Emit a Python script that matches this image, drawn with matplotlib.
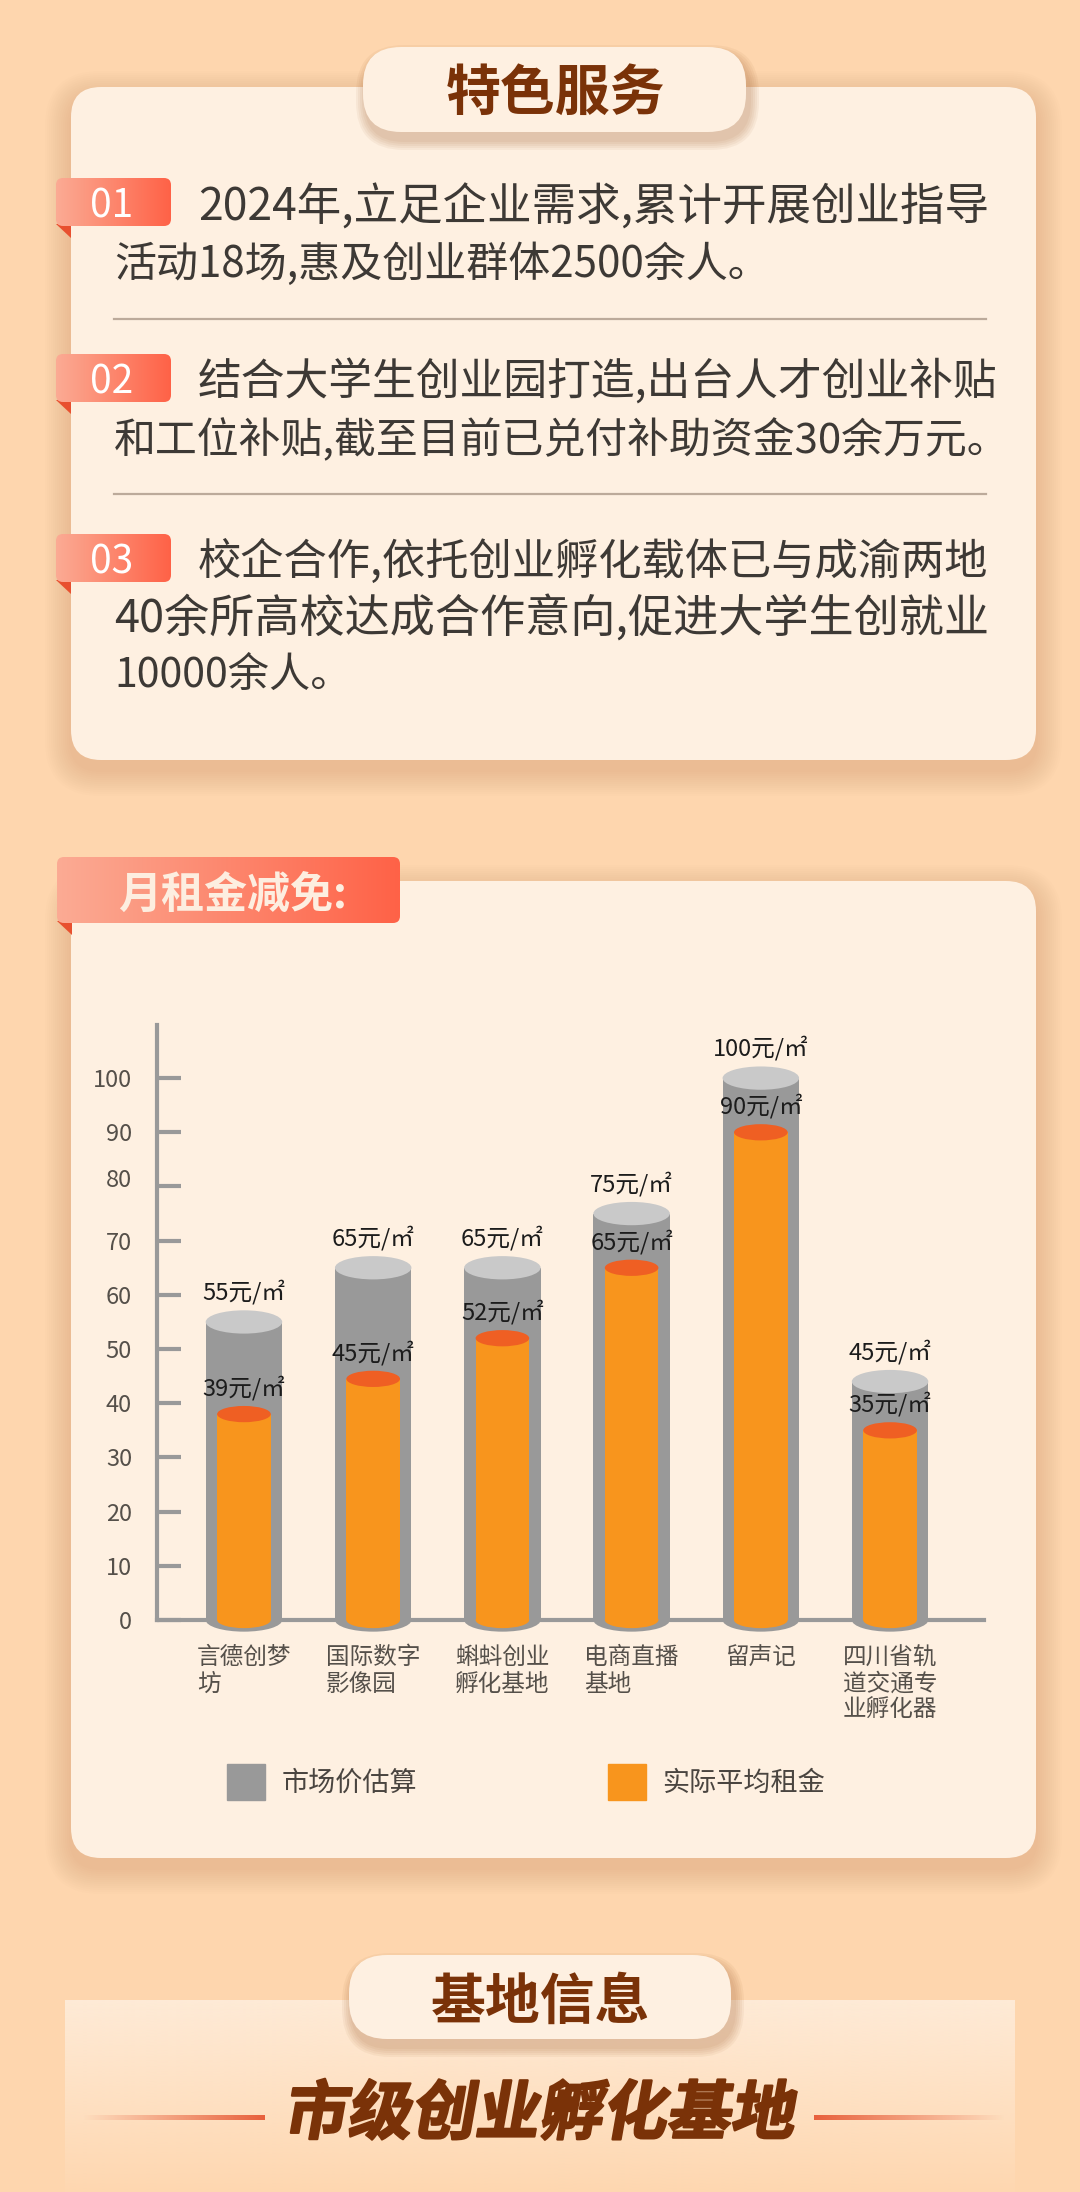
import matplotlib
matplotlib.use('Agg')  # Use a non-GUI backend
import matplotlib.pyplot as plt
import matplotlib.patheffects as pe
import numpy as np
from matplotlib.colors import to_rgb
from matplotlib.patches import Ellipse, FancyBboxPatch, Patch, Polygon
from matplotlib.transforms import Affine2D, ScaledTranslation

plt.rcParams['font.family'] = ['Noto Sans CJK SC', 'DejaVu Sans']

# chart data
categories = ['言德创梦\n坊', '国际数字\n影像园', '蝌蚪创业\n孵化基地', '电商直播\n基地', '留声记', '四川省轨\n道交通专\n业孵化器']
market_values = [55, 65, 65, 75, 100, 44]
actual_values = [38, 44.5, 52, 65, 90, 35]
market_labels = ['55元/㎡', '65元/㎡', '65元/㎡', '75元/㎡', '100元/㎡', '45元/㎡']
actual_labels = ['39元/㎡', '45元/㎡', '52元/㎡', '65元/㎡', '90元/㎡', '35元/㎡']
y_ticks = [0, 10, 20, 30, 40, 50, 60, 70, 80, 90, 100]
legend_names = ['市场价估算', '实际平均租金']

# page text
service_items = [
    ('01', 178, [(198, 988, 207, '2024年,立足企业需求,累计开展创业指导'),
                 (114, 770, 265, '活动18场,惠及创业群体2500余人。')]),
    ('02', 354, [(198, 998, 383, '结合大学生创业园打造,出台人才创业补贴'),
                 (114, 1010, 440, '和工位补贴,截至目前已兑付补助资金30余万元。')]),
    ('03', 534, [(198, 988, 562, '校企合作,依托创业孵化载体已与成渝两地'),
                 (114, 988, 619, '40余所高校达成合作意向,促进大学生创就业'),
                 (114, 352, 675, '10000余人。')]),
]

W, H = 1080, 2192
BG = '#fed6ae'
CARD = '#fef0e1'
BROWN = '#7a3208'
GRAY = '#999999'
ORANGE = '#f8951d'


class Skew(pe.AbstractPathEffect):
    # the heading font is slanted and very heavy, no such face is installed
    def draw_path(self, renderer, gc, tpath, affine, rgbFace=None):
        slanted = Affine2D().skew_deg(10, 0) + affine
        gc0 = renderer.new_gc()
        gc0.copy_properties(gc)
        gc0.set_foreground(BROWN)
        gc0.set_linewidth(1.6)
        renderer.draw_path(gc0, tpath, slanted, rgbFace)
        gc0.restore()


def shadow(ax, x0, y0, x1, y1, r, dx=0, dy=10, spread=26, alpha=0.022, color='#c98a5a', z=1):
    for i in range(spread, 0, -2):
        ax.add_patch(FancyBboxPatch((x0 - i + dx, y0 - i + dy), x1 - x0 + 2 * i, y1 - y0 + 2 * i,
                                    boxstyle=f'round,pad=0,rounding_size={r + i}',
                                    fc=color, ec='none', alpha=alpha, zorder=z))


def box(ax, x0, y0, x1, y1, r, color=CARD, z=2):
    p = FancyBboxPatch((x0, y0), x1 - x0, y1 - y0, boxstyle=f'round,pad=0,rounding_size={r}',
                       fc=color, ec='none', zorder=z)
    ax.add_patch(p)
    return p


def gradient(ax, x0, y0, x1, y1, c0, c1, a0=1.0, a1=1.0, vertical=False, z=3):
    n = 256
    t = np.linspace(0, 1, n)
    img = np.zeros((1, n, 4))
    img[0, :, :3] = np.outer(1 - t, to_rgb(c0)) + np.outer(t, to_rgb(c1))
    img[0, :, 3] = a0 + (a1 - a0) * t
    if vertical:
        img = img.transpose(1, 0, 2)
    return ax.imshow(img, extent=(x0, x1, y1, y0), aspect='auto', zorder=z, interpolation='bilinear')


def badge(ax, x0, y0, x1, y1, z=6):
    ax.add_patch(Polygon([(x0, y1 - 2), (x0 + 15, y1 - 2), (x0 + 15, y1 + 12)], fc='#e8502f', ec='none', zorder=z))
    p = box(ax, x0, y0, x1, y1, 7, color='none', z=z)
    im = gradient(ax, x0, y0, x1, y1, '#fbab94', '#ff6247', z=z + 1)
    im.set_clip_path(p)


def fit_text(ax, x0, x1, y, s, size=29, color='#3d3935', **kw):
    t = ax.text(x0, y, s, fontsize=size, color=color, ha='left', va='center', zorder=8, **kw)
    w = t.get_window_extent(ax.figure.canvas.get_renderer()).width
    t.set_fontsize(size * (x1 - x0) / w)
    return t


fig = plt.figure(figsize=(W / 100, H / 100), dpi=100, facecolor=BG)
page = fig.add_axes([0, 0, 1, 1])
page.set_xlim(0, W)
page.set_ylim(H, 0)
page.set_autoscale_on(False)
page.axis('off')

# first card
shadow(page, 71, 87, 1036, 760, 30)
box(page, 71, 87, 1036, 760, 30)
shadow(page, 363, 47, 746, 132, 38, dx=3, dy=8, spread=10, alpha=0.07, color='#a8683a', z=3)
box(page, 363, 47, 746, 132, 38, z=4)
page.text(555, 93, '特色服务', fontsize=39.5, fontweight='bold', color=BROWN, ha='center', va='center', zorder=8)

for num, top, lines in service_items:
    badge(page, 56, top, 171, top + 48)
    page.text(112, top + 28, num, fontsize=28, color='white', ha='center', va='center', zorder=9)
    for x0, x1, y, s in lines:
        fit_text(page, x0, x1, y, s)
page.plot([114, 986], [319, 319], color='#bcaa9a', lw=1.6, zorder=5)
page.plot([114, 986], [494, 494], color='#bcaa9a', lw=1.6, zorder=5)

# second card
shadow(page, 71, 881, 1036, 1858, 30)
box(page, 71, 881, 1036, 1858, 30)
badge(page, 57, 857, 400, 923)
page.text(233, 895, '月租金减免:', fontsize=31, fontweight='bold', color='#fdeee0', ha='center', va='center', zorder=9)

# bottom section
gradient(page, 65, 2000, 1015, H, '#fef0e1', '#fef0e1', a0=0.8, a1=0.05, vertical=True, z=1)
shadow(page, 349, 1955, 731, 2039, 38, dx=3, dy=8, spread=10, alpha=0.07, color='#a8683a', z=3)
box(page, 349, 1955, 731, 2039, 38, z=4)
page.text(541, 2002, '基地信息', fontsize=39.5, fontweight='bold', color=BROWN, ha='center', va='center', zorder=8)
gradient(page, 83, 2115, 265, 2120, '#e8603c', '#e8603c', a0=0.0, a1=1.0, z=5)
gradient(page, 814, 2115, 1005, 2120, '#e8603c', '#e8603c', a0=1.0, a1=0.0, z=5)
page.text(538, 2115, '市级创业孵化基地', fontsize=46, fontweight='bold', color=BROWN, ha='center', va='center',
          zorder=8, path_effects=[Skew()])

# bar chart, axes placed so that 0 sits at y=1620 and 100 at y=1078
left, right, top, bottom = 157, 984, 1025, 1620
ax = fig.add_axes([left / W, 1 - bottom / H, (right - left) / W, (bottom - top) / H], facecolor='none')
x = np.arange(len(categories))
ax.set_xlim(-0.673, 5.727)
ax.set_ylim(0, 109.8)

outer_w, inner_w = 0.592, 0.415
outer_h, inner_h = 4.3, 3.0
ax.bar(x, market_values, outer_w, color=GRAY, zorder=3)
ax.bar(x, actual_values, inner_w, color=ORANGE, zorder=5)
for xi, m, a in zip(x, market_values, actual_values):
    ax.add_patch(Ellipse((xi, 0), outer_w, outer_h, fc=GRAY, ec='none', zorder=3, clip_on=False))
    ax.add_patch(Ellipse((xi, m), outer_w, outer_h, fc='#c9c9c9', ec='none', zorder=4, clip_on=False))
    ax.add_patch(Ellipse((xi, 0), inner_w, inner_h, fc=ORANGE, ec='none', zorder=5, clip_on=False))
    ax.add_patch(Ellipse((xi, a), inner_w, inner_h, fc='#ef5f23', ec='none', zorder=6, clip_on=False))

for xi, m, a, ml, al in zip(x, market_values, actual_values, market_labels, actual_labels):
    ax.text(xi, m + 5.5, ml, fontsize=17, color='#1c1c1c', ha='center', va='center', zorder=7)
    ax.text(xi, a + 4.8, al, fontsize=17, color='#1c1c1c', ha='center', va='center', zorder=7)

ax.set_yticks(y_ticks)
ax.set_xticks(x)
ax.set_xticklabels(categories, fontsize=17, color='#55504a', multialignment='left', linespacing=1.18)
ax.tick_params(axis='x', length=0, pad=19)
ax.tick_params(axis='y', direction='in', length=17, width=3, color=GRAY, labelsize=17, labelcolor='#55504a', pad=18)
for side in ['top', 'right']:
    ax.spines[side].set_visible(False)
for side in ['left', 'bottom']:
    ax.spines[side].set_color(GRAY)
    ax.spines[side].set_linewidth(3)

# the 80 label sits a little above its tick in the source
lab80 = ax.get_yticklabels()[y_ticks.index(80)]
lab80.set_transform(lab80.get_transform() + ScaledTranslation(0, 8 / 100, fig.dpi_scale_trans))

handles = [Patch(color=GRAY), Patch(color=ORANGE)]
fig.legend(handles, legend_names, loc='upper left', bbox_to_anchor=(227 / W, 1 - 1764 / H), ncol=2,
           frameon=False, fontsize=19.5, labelcolor='#4a4540', borderpad=0, borderaxespad=0,
           handlelength=1.4, handleheight=1.65, handletextpad=0.6, columnspacing=7.07)

fig.savefig('out.png', dpi=100, facecolor=BG)
plt.close(fig)
